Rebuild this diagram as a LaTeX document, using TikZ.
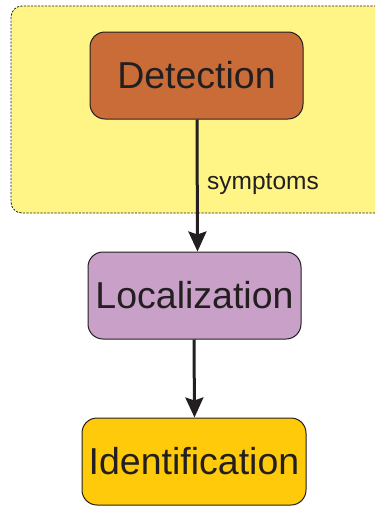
\documentclass[tikz,border=0pt]{standalone}
\usepackage{fontspec}
\setmainfont{Liberation Sans}
\usetikzlibrary{arrows.meta}
\definecolor{inkdark}{HTML}{231F20}
\definecolor{zonefill}{HTML}{FFF587}
\definecolor{detfill}{HTML}{C96C38}
\definecolor{locfill}{HTML}{C8A0C8}
\definecolor{idfill}{HTML}{FFCA0A}
\tikzset{
  stagebox/.style={draw=inkdark, line width=1pt, rounded corners=15pt,
    minimum width=213pt, minimum height=87pt, inner sep=0pt,
    text=inkdark, font=\fontsize{37.5}{40}\selectfont},
  flow/.style={draw=inkdark, line width=3pt,
    -{Stealth[length=20pt,width=18pt,inset=3pt]}},
  zone/.style={draw=inkdark, line width=0.8pt, dash pattern=on 2.2pt off 1.3pt,
    fill=zonefill, rounded corners=11pt},
  flowlabel/.style={text=inkdark, inner sep=0pt, anchor=west,
    font=\fontsize{24.5}{26}\selectfont}
}
\begin{document}
\begin{tikzpicture}[x=1pt,y=-1pt]
  \useasboundingbox (0,0) rectangle (375,506);
  \clip (0,0) rectangle (375,506);
  % monitoring zone around the detection stage
  \path[zone] (11,6) rectangle (400,213);
  % the three diagnosis stages
  \node[stagebox, fill=detfill] (det) at (196.5,75.5) {\raisebox{-1.5pt}{Detection}};
  \node[stagebox, fill=locfill] (loc) at (194.5,295.5) {\raisebox{-1.5pt}{Localization}};
  \node[stagebox, fill=idfill, minimum width=224pt] (idn) at (194,461.5) {\raisebox{-1.5pt}{Identification}};
  % connectors
  \draw[flow] ([xshift=0.5pt]det.south) -- ([xshift=3pt]loc.north);
  \node[flowlabel] (sym) at (207,184) {symptoms};
  \draw[flow] ([xshift=-0.5pt]loc.south) -- ([xshift=0.5pt]idn.north);
\end{tikzpicture}
\end{document}
